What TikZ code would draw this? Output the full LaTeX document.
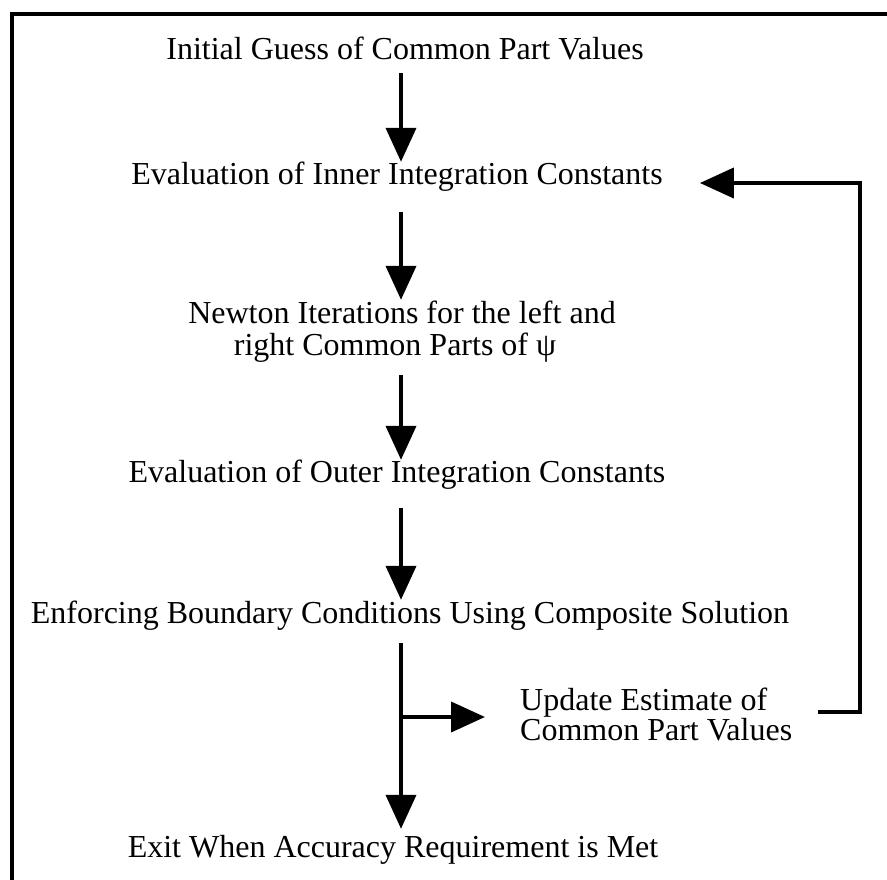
\documentclass[tikz,border=0pt]{standalone}
\usepackage{fontspec}
\setmainfont{Liberation Serif}
\usetikzlibrary{arrows.meta}
\begin{document}
\begin{tikzpicture}[x=1pt,y=-1pt,
  txt/.style={inner sep=0pt,text height=22pt,text depth=7pt,font=\fontsize{32}{34}\selectfont,anchor=base},
  arr/.style={line width=4pt,-{Triangle[length=34pt,width=30pt]}},
  ln/.style={line width=4pt}]
\useasboundingbox (0,0) rectangle (887,880);
% frame (only top and left visible)
\draw[ln] (12,880) -- (12,14) -- (887,14);
% texts
\node[txt] (init) at (405,60) {Initial Guess of Common Part Values};
\node[txt] (inner) at (397,185) {Evaluation of Inner Integration Constants};
\node[txt] (newt1) at (402,323) {Newton Iterations for the left and};
\node[txt] (newt2) at (395,355) {right Common Parts of ψ};
\node[txt] (outer) at (397,482) {Evaluation of Outer Integration Constants};
\node[txt] (enf) at (410,623) {Enforcing Boundary Conditions Using Composite Solution};
\node[txt,anchor=base west] (upd1) at (520,710) {Update Estimate of};
\node[txt,anchor=base west] (upd2) at (520,740) {Common Part Values};
\node[txt] (exit) at (393,857) {Exit When Accuracy Requirement is Met};
% main column
\coordinate (col) at (401,0);
\draw[arr,shorten <=6pt,shorten >=1pt] (col |- init.south) -- (col |- inner.north);
\draw[arr,shorten <=20pt,shorten >=1pt] (col |- inner.south) -- (col |- newt1.north);
\draw[arr,shorten <=13pt] (col |- newt2.south) -- (col |- outer.north);
\draw[arr,shorten <=19pt,shorten >=1pt] (col |- outer.south) -- (col |- enf.north);
\draw[arr,shorten <=13pt,shorten >=6pt] (col |- enf.south) -- (col |- exit.north);
% branch to update
\coordinate (br) at (401,717);
\draw[arr,shorten >=35pt] (br) -- (br -| upd1.west);
% feedback loop
\coordinate (fbstart) at (818,712);
\coordinate (fbcorner) at (860,183);
\draw[arr,shorten >=37pt] (fbstart) -| (fbcorner) -- (fbcorner -| inner.east);
\end{tikzpicture}
\end{document}
